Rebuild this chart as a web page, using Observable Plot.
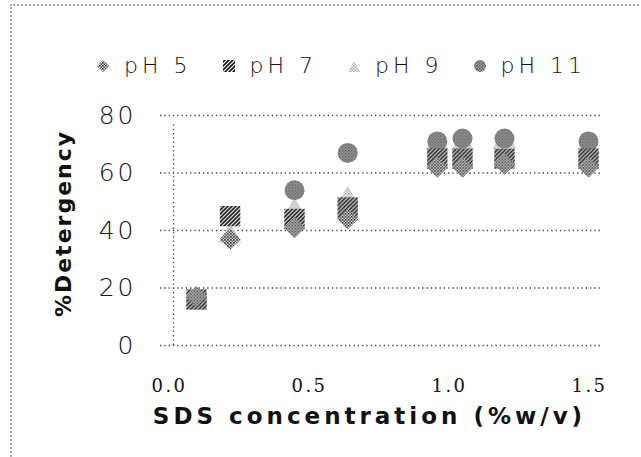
<!DOCTYPE html>
<html><head><meta charset="utf-8">
<script src="https://cdn.jsdelivr.net/npm/d3@7"></script>
<script src="https://cdn.jsdelivr.net/npm/@observablehq/plot@0.6"></script>
<style>
html,body{margin:0;padding:0;background:#fff;}
#wrap{position:relative;width:641px;height:457px;overflow:hidden;background:#fff;}
#border{position:absolute;left:10px;top:4px;width:800px;height:700px;border-left:2px dotted #b0b0b0;border-top:2px dotted #b0b0b0;box-sizing:border-box;}
#chart{position:absolute;left:0;top:0;}
#legend{position:absolute;top:53px;left:96px;display:flex;align-items:center;font-family:"DejaVu Sans";font-weight:200;font-size:22px;letter-spacing:4px;color:#111;}
#legend .item{display:flex;align-items:center;margin-right:30px;}
#legend svg{margin-right:14px;}
.ytk text{letter-spacing:3px;}
.xtk text{letter-spacing:2.5px;}
.xttl text{letter-spacing:4px;}
.yttl text{letter-spacing:2px;}
</style></head>
<body><div id="wrap"><div id="border"></div><div id="chart"></div><div id="legend"></div></div>
<script>
const conc = [0.1, 0.22, 0.45, 0.64, 0.96, 1.05, 1.2, 1.5];
const pH5 = [17, 37, 41, 44, 62, 62, 63, 62];
const pH7 = [16, 45, 44, 48, 65, 65, 65, 65];
const pH9 = [16, 38, 47, 51, 70, 70, 71, 69];
const pH11 = [16, 45, 54, 67, 71, 72, 72, 71];
const seriesNames = ["pH 5", "pH 7", "pH 9", "pH 11"];
const yTicks = [0, 20, 40, 60, 80];
const xTicks = [0, 0.5, 1.0, 1.5];
const xTitle = "SDS concentration (%w/v)";
const yTitle = "%Detergency";

const seriesValues = [pH5, pH7, pH9, pH11];
const symbols = ["diamond2", "square", "triangle", "circle"];
const radii = [9.5, 11.5, 8.5, 10];
const fills = ["url(#pat5)", "url(#pat7)", "url(#pat9)", "url(#pat11)"];
const rows = seriesNames.map((name, i) => conc.map((c, j) => ({series: name, x: c, y: seriesValues[i][j]})));

// draw order: pH 9, pH 11, pH 7, pH 5 (pH 5 on top)
const order = [2, 3, 1, 0];

const plot = Plot.plot({
  width: 641,
  height: 457,
  marginLeft: 160,
  marginRight: 39,
  marginTop: 115,
  marginBottom: 112,
  style: {background: "transparent", overflow: "visible"},
  x: {domain: [0, 1.5], range: [168, 588]},
  y: {domain: [0, 80]},
  marks: [
    Plot.ruleY(yTicks, {stroke: "#444", strokeWidth: 1.3, strokeDasharray: "1.3,3"}),
    Plot.ruleX([0], {y1: 0, y2: 80, dx: 5, insetBottom: -7, stroke: "#444", strokeWidth: 1.3, strokeDasharray: "1.3,3"}),
    ...order.map(i => Plot.dot(rows[i], {x: "x", y: "y", symbol: () => symbols[i], r: radii[i], fill: fills[i], stroke: "none"})),
    Plot.axisY({ticks: yTicks, label: null, tickSize: 0, tickPadding: 24, fontSize: 25, fontFamily: "DejaVu Sans", fontWeight: 200, fill: "#111", className: "ytk"}),
    Plot.axisX({ticks: xTicks, label: null, tickSize: 0, tickPadding: 34, tickFormat: d3.format(".1f"), fontSize: 18, fontFamily: "DejaVu Serif", fill: "#111", dx: 1, className: "xtk"}),
    Plot.text([xTitle], {frameAnchor: "bottom", text: d => d, dy: 78, dx: -12, textAnchor: "middle", lineAnchor: "bottom", fontSize: 23, fontWeight: "bold", fontFamily: "DejaVu Sans", fill: "#111", className: "xttl"}),
    Plot.text([yTitle], {frameAnchor: "left", text: d => d, rotate: -90, dx: -97, dy: -7, textAnchor: "middle", fontSize: 22, fontWeight: "bold", fontFamily: "DejaVu Sans", fill: "#111", className: "yttl"})
  ]
});

// patterns emulating the hatched/dotted marker fills
const defs = `
<defs>
 <pattern id="pat5" width="3" height="3" patternUnits="userSpaceOnUse">
  <rect width="3" height="3" fill="#fff"/><rect x="0" y="0" width="1.6" height="1.6" fill="#111"/><rect x="1.5" y="1.5" width="1.5" height="1.5" fill="#333"/>
 </pattern>
 <pattern id="pat7" width="4" height="4" patternUnits="userSpaceOnUse">
  <rect width="4" height="4" fill="#fff"/><path d="M-1,1 l2,-2 M0,4 l4,-4 M3,5 l2,-2" stroke="#111" stroke-width="1.6"/>
 </pattern>
 <pattern id="pat9" width="3" height="3" patternUnits="userSpaceOnUse">
  <rect width="3" height="3" fill="#fff"/><rect x="0" y="0" width="1.5" height="1.5" fill="#999"/><rect x="1.5" y="1.5" width="1.5" height="1.5" fill="#aaa"/>
 </pattern>
 <pattern id="pat11" width="3" height="3" patternUnits="userSpaceOnUse">
  <rect width="3" height="3" fill="#aaa"/><rect x="0" y="0" width="1.6" height="1.6" fill="#555"/><rect x="1.5" y="1.5" width="1.5" height="1.5" fill="#666"/>
 </pattern>
</defs>`;
plot.insertAdjacentHTML("afterbegin", defs);
document.getElementById("chart").appendChild(plot);

// legend
const legend = document.getElementById("legend");
const swatch = [
  '<path d="M7,1 L13,7 L7,13 L1,7 Z" fill="url(#pat5)"/>',
  '<rect x="1" y="1" width="12" height="12" fill="url(#pat7)"/>',
  '<path d="M7,2 L13,13 L1,13 Z" fill="url(#pat9)"/>',
  '<circle cx="7" cy="7" r="6" fill="url(#pat11)"/>'
];
seriesNames.forEach((name, i) => {
  const it = document.createElement("div");
  it.className = "item";
  it.innerHTML = `<svg width="14" height="14">${swatch[i]}</svg><span>${name}</span>`;
  legend.appendChild(it);
});
</script></body></html>
